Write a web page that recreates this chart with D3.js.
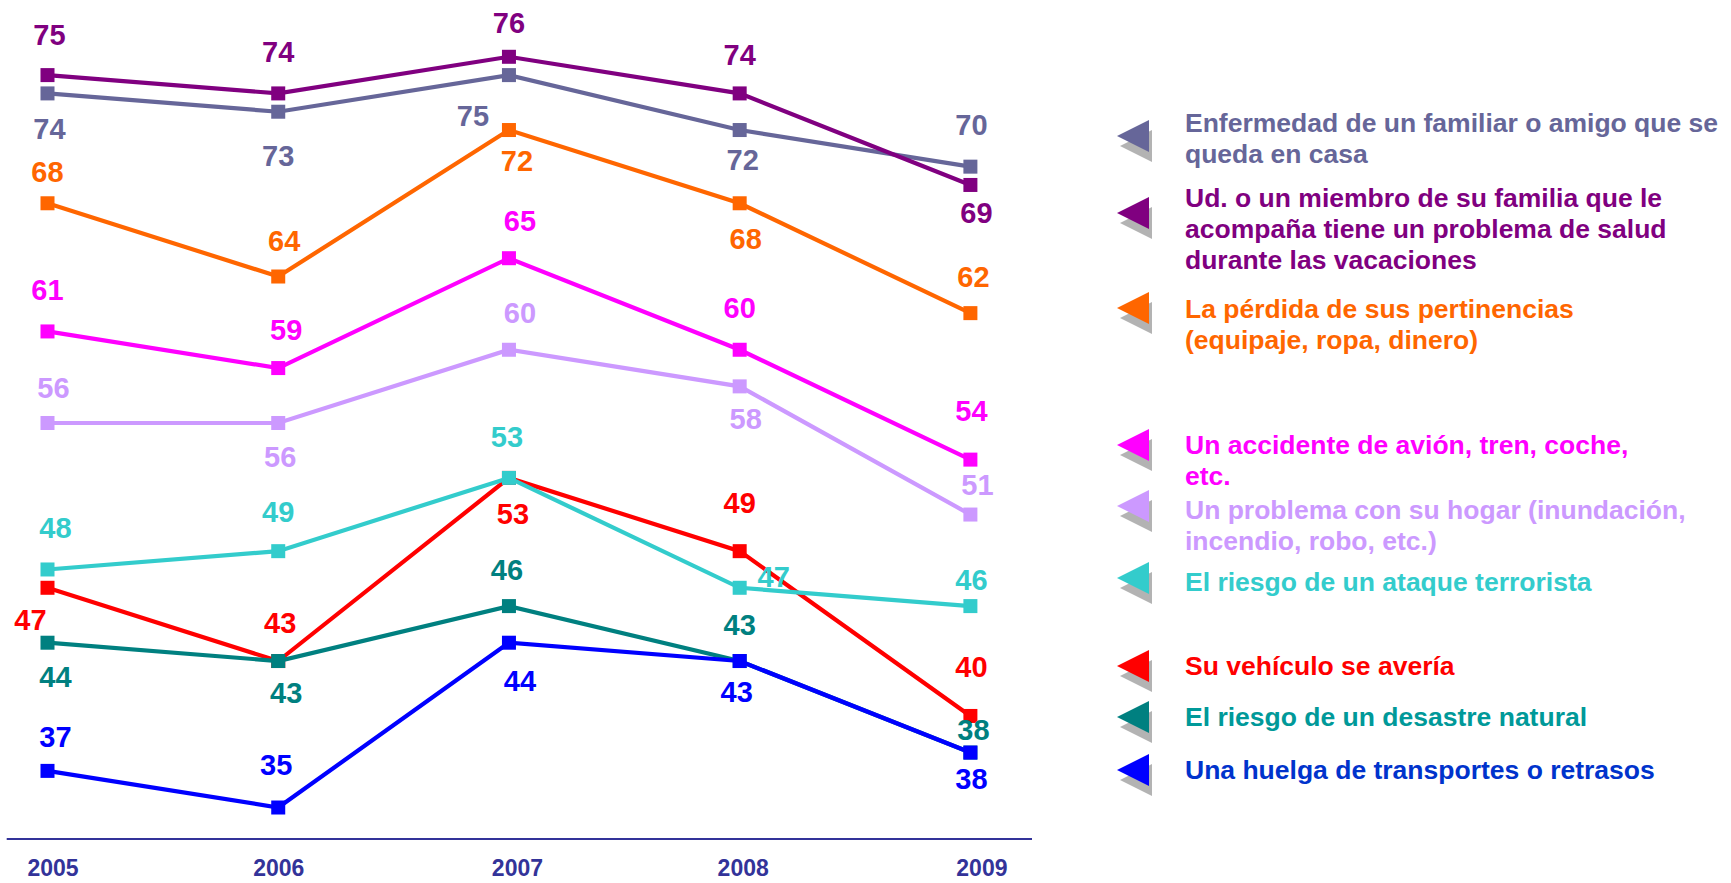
<!DOCTYPE html>
<html>
<head>
<meta charset="utf-8">
<script src="https://cdn.jsdelivr.net/npm/d3@7"></script>
<style>
  html, body { margin: 0; padding: 0; background: #ffffff; }
  svg { display: block; }
  text { font-family: "Liberation Sans", Arial, sans-serif; font-weight: bold; }
</style>
</head>
<body>
<svg id="chart" width="1731" height="883"></svg>
<script>
// Survey years
const years = ["2005", "2006", "2007", "2008", "2009"];

// Legend texts (one entry per series, split into the lines it wraps to)
const names = [
  ["Enfermedad de un familiar o amigo que se", "queda en casa"],
  ["Ud. o un miembro de su familia que le", "acompaña tiene un problema de salud", "durante las vacaciones"],
  ["La pérdida de sus pertinencias", "(equipaje, ropa, dinero)"],
  ["Un accidente de avión, tren, coche,", "etc."],
  ["Un problema con su hogar (inundación,", "incendio, robo, etc.)"],
  ["El riesgo de un ataque terrorista"],
  ["Su vehículo se avería"],
  ["El riesgo de un desastre natural"],
  ["Una huelga de transportes o retrasos"]
];

// Percentages per year
const enfermedad = [74, 73, 75, 72, 70];
const saludVacaciones = [75, 74, 76, 74, 69];
const perdida = [68, 64, 72, 68, 62];
const accidente = [61, 59, 65, 60, 54];
const hogar = [56, 56, 60, 58, 51];
const terrorista = [48, 49, 53, 47, 46];
const vehiculo = [47, 43, 53, 49, 40];
const desastre = [44, 43, 46, 43, 38];
const huelga = [37, 35, 44, 43, 38];

const values = [enfermedad, saludVacaciones, perdida, accidente, hogar,
                terrorista, vehiculo, desastre, huelga];

// Styling
const lineColors = ["#666699", "#800080", "#FF6600", "#FF00FF", "#CC99FF",
                    "#33CCCC", "#FF0000", "#008080", "#0000FF"];
const legendColors = ["#666699", "#800080", "#FF6600", "#FF00FF", "#CC99FF",
                      "#33CCCC", "#FF0000", "#009999", "#0033CC"];
// series painted in this order (later ones sit on top)
const drawOrder = [0, 1, 2, 3, 4, 6, 5, 7, 8];

// Value label offsets from each marker [dx, dy] in px
const labelOffsets = [
  [[2, 35], [0, 44], [-36, 40], [3, 30], [1, -42]],
  [[2, -41], [0, -42], [0, -34], [0, -39], [6, 28]],
  [[0, -32], [6, -36], [8, 31], [6, 35], [3, -37]],
  [[0, -42], [8, -39], [11, -38], [0, -42], [1, -49]],
  [[6, -35], [2, 34], [11, -37], [6, 32], [7, -30]],
  [[8, -42], [0, -40], [-2, -41], [34, -11], [1, -27]],
  [[-17, 32], [2, -38], [4, 36], [0, -49], [1, -49]],
  [[8, 34], [8, 32], [-2, -37], [0, -36], [3, -23]],
  [[8, -34], [-2, -43], [11, 38], [-3, 31], [1, 26]]
];

// Legend layout: first text baseline and arrow centre for each entry
const legendBaselines = [132, 207, 318, 454, 519, 591, 675, 726, 779];
const legendArrowY = [136, 213, 308, 445, 506, 578, 666, 717, 770];
const legendLineHeight = 31;

const svg = d3.select("#chart");

const x = d3.scalePoint().domain(years).range([47.5, 970.4]);
const y = d3.scaleLinear().domain([33.28, 75]).range([839, 75.1]);

// X axis
const tickNudge = [5, 0, 8, 3, 11];
const axisG = svg.append("g")
  .attr("transform", `translate(0,${y(33.28)})`)
  .call(d3.axisBottom(x).tickSize(0).tickPadding(21));
axisG.select(".domain")
  .attr("d", "M6.7,0H1032")
  .attr("stroke", "#333399")
  .attr("stroke-width", 2.2);
axisG.selectAll(".tick text")
  .attr("fill", "#333399")
  .attr("font-size", "23px")
  .attr("font-family", "'Liberation Sans', Arial, sans-serif")
  .attr("font-weight", "bold")
  .attr("dx", (d, i) => tickNudge[i]);

// Lines and markers
const line = d3.line()
  .x((d, i) => x(years[i]))
  .y(d => y(d));

const plot = svg.append("g");
drawOrder.forEach(s => {
  const g = plot.append("g");
  g.append("path")
    .datum(values[s])
    .attr("d", line)
    .attr("fill", "none")
    .attr("stroke", lineColors[s])
    .attr("stroke-width", 4.2)
    .attr("stroke-linejoin", "miter");
  g.selectAll("rect")
    .data(values[s])
    .join("rect")
    .attr("x", (d, i) => x(years[i]) - 7)
    .attr("y", d => y(d) - 7)
    .attr("width", 14)
    .attr("height", 14)
    .attr("fill", lineColors[s]);
});

// Value labels
const labels = svg.append("g");
values.forEach((vals, s) => {
  labels.selectAll(null)
    .data(vals)
    .join("text")
    .attr("x", (d, i) => x(years[i]) + labelOffsets[s][i][0])
    .attr("y", (d, i) => y(d) + labelOffsets[s][i][1])
    .attr("dy", "0.36em")
    .attr("text-anchor", "middle")
    .attr("font-size", "29px")
    .attr("fill", lineColors[s])
    .text(d => d);
});

// Legend
const legend = svg.append("g");
names.forEach((lines, s) => {
  const cy = legendArrowY[s];
  const tri = (dx, dy) =>
    `M${1117 + dx},${cy + dy}L${1149 + dx},${cy - 16 + dy}L${1149 + dx},${cy + 16 + dy}Z`;
  legend.append("path").attr("d", tri(3, 10)).attr("fill", "#B3B3B3");
  legend.append("path").attr("d", tri(0, 0)).attr("fill", lineColors[s]);
  const t = legend.append("text")
    .attr("x", 1185)
    .attr("y", legendBaselines[s])
    .attr("font-size", "26.5px")
    .attr("fill", legendColors[s]);
  lines.forEach((ln, k) => {
    t.append("tspan")
      .attr("x", 1185)
      .attr("y", legendBaselines[s] + k * legendLineHeight)
      .text(ln);
  });
});
</script>
</body>
</html>
